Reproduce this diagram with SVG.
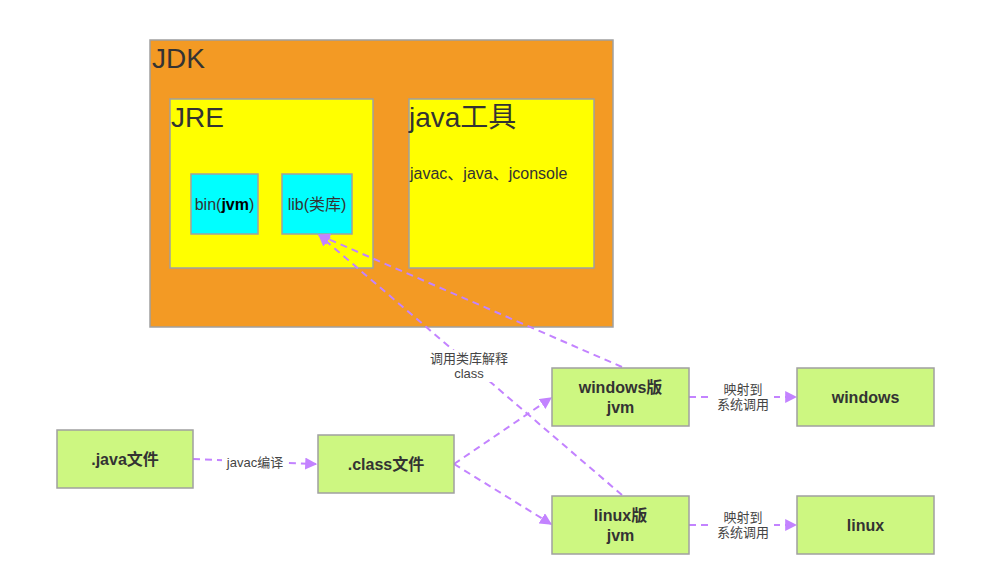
<svg xmlns="http://www.w3.org/2000/svg" width="1006" height="582" viewBox="0 0 1006 582">
<style>
.box{stroke:#a0a0a0;stroke-width:1.5}
.g{fill:#cdf781}
.t{font-family:"Liberation Sans","Noto Sans CJK SC",sans-serif;fill:#333}
.b{font-weight:bold;font-size:16px}
.lbl{font-size:13px;fill:#444}
.c{fill:none;stroke:#c383ff;stroke-width:2;stroke-dasharray:7,5}
</style>
<defs>
<marker id="a" viewBox="0 0 10 10" refX="9" refY="5" markerWidth="12" markerHeight="12" orient="auto" markerUnits="userSpaceOnUse">
<path d="M0,0 L10,5 L0,10 z" fill="#c383ff"/>
</marker>
</defs>
<rect width="1006" height="582" fill="#fff"/>
<g id="jdk">
<rect class="box" x="150" y="40" width="463" height="287" fill="#f39a24"/>
<text class="t" x="152" y="68" font-size="28">JDK</text>
</g>
<g id="jre">
<rect class="box" x="170" y="99" width="203" height="169" fill="#ffff00"/>
<text class="t" x="171" y="127" font-size="28">JRE</text>
</g>
<g id="tools">
<rect class="box" x="409" y="99" width="185" height="169" fill="#ffff00"/>
<text class="t" x="409" y="127" font-size="28">java工具</text>
<text class="t" x="410" y="179" font-size="16">javac、java、jconsole</text>
</g>
<g id="bin">
<rect class="box" x="191" y="174" width="67" height="60" fill="#00ffff"/>
<text class="t" x="224.5" y="210" font-size="16" text-anchor="middle">bin(<tspan font-weight="bold" fill="#000">jvm</tspan>)</text>
</g>
<g id="lib">
<rect class="box" x="282" y="174" width="70" height="60" fill="#00ffff"/>
<text class="t" x="317" y="210" font-size="16" text-anchor="middle">lib(类库)</text>
</g>
<g id="connectors">
<line class="c" x1="193" y1="459" x2="316" y2="464" marker-end="url(#a)"/>
<line class="c" x1="454" y1="464" x2="551" y2="398" marker-end="url(#a)"/>
<line class="c" x1="454" y1="464" x2="551" y2="524" marker-end="url(#a)"/>
<line class="c" x1="689" y1="397" x2="796" y2="397" marker-end="url(#a)"/>
<line class="c" x1="689" y1="525" x2="796" y2="525" marker-end="url(#a)"/>
<line class="c" x1="622" y1="367" x2="319" y2="235" marker-end="url(#a)"/>
<line class="c" x1="622" y1="495" x2="319" y2="235" marker-end="url(#a)"/>
<rect x="222" y="453" width="66" height="18" fill="#fff"/>
<text class="t lbl" x="255" y="467" text-anchor="middle">javac编译</text>
<rect x="426" y="350" width="86" height="32" fill="#fff"/>
<text class="t lbl" x="469" y="363" text-anchor="middle">调用类库解释</text>
<text class="t lbl" x="469" y="378" text-anchor="middle">class</text>
<rect x="712" y="382" width="62" height="30" fill="#fff"/>
<text class="t lbl" x="743" y="394" text-anchor="middle">映射到</text>
<text class="t lbl" x="743" y="409" text-anchor="middle">系统调用</text>
<rect x="712" y="510" width="62" height="30" fill="#fff"/>
<text class="t lbl" x="743" y="522" text-anchor="middle">映射到</text>
<text class="t lbl" x="743" y="537" text-anchor="middle">系统调用</text>
</g>
<g id="java-file">
<rect class="box g" x="57" y="430" width="136" height="58"/>
<text class="t b" x="125" y="465" text-anchor="middle">.java文件</text>
</g>
<g id="class-file">
<rect class="box g" x="318" y="435" width="136" height="58"/>
<text class="t b" x="386" y="470" text-anchor="middle">.class文件</text>
</g>
<g id="win-jvm">
<rect class="box g" x="552" y="368" width="137" height="58"/>
<text class="t b" x="620.5" y="393" text-anchor="middle">windows版</text>
<text class="t b" x="620.5" y="413" text-anchor="middle">jvm</text>
</g>
<g id="windows">
<rect class="box g" x="797" y="368" width="137" height="58"/>
<text class="t b" x="865.5" y="403" text-anchor="middle">windows</text>
</g>
<g id="linux-jvm">
<rect class="box g" x="552" y="496" width="137" height="58"/>
<text class="t b" x="620.5" y="521" text-anchor="middle">linux版</text>
<text class="t b" x="620.5" y="541" text-anchor="middle">jvm</text>
</g>
<g id="linux">
<rect class="box g" x="797" y="496" width="137" height="58"/>
<text class="t b" x="865.5" y="531" text-anchor="middle">linux</text>
</g>
</svg>
